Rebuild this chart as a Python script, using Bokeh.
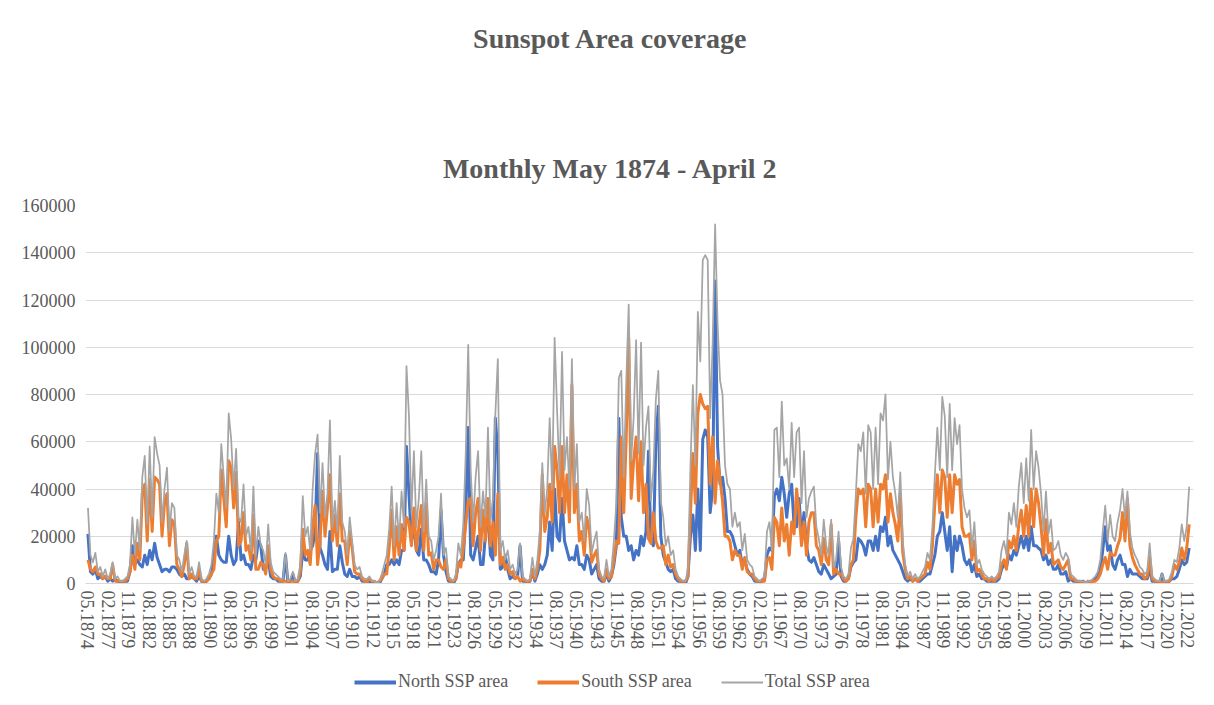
from bokeh.plotting import figure
from bokeh.models import Range1d, FixedTicker, Legend, LegendItem, BasicTickFormatter, Label
from bokeh.layouts import column
from bokeh.embed import file_html
from bokeh.resources import INLINE

# ---------------- categories (monthly) ----------------
start_year, start_month = 1874, 5
n_months = 1788  # May 1874 .. April 2023
months = []
for k in range(n_months):
    m = (start_month - 1 + k) % 12 + 1
    y = start_year + (start_month - 1 + k) // 12
    months.append(f"{m:02d}.{y}")

tick_step = 33
tick_idx = list(range(0, n_months, tick_step))
tick_labels = [months[i] for i in tick_idx]

title_text = "Sunspot Area coverage"
subtitle_text = "Monthly May 1874 - April 2"
series_names = ["North SSP area", "South SSP area", "Total SSP area"]

# ---------------- series (readings every 4 months, in thousands) ----------------
sample_step = 4
north_k = [
    21,5, 4,6,2, 3,2,3, 1,2,1, 2,1,0, 0,1,1,
    5,16,8, 10,8,7, 12,8,14, 10,17,11, 8,5,6, 6,5,7, 7,6,4, 3,4,2, 2,3,2, 1,3,1,
    0,1,2, 4,12,20, 12,10,9, 9,20,12, 8,10,26, 10,12,8, 8,6,12, 10,18,16, 6,8,10, 3,2,2,
    1,1,1, 12,0,1, 4,0,1, 3,14,10, 10,14,16, 22,55,15, 12,8,6, 22,5,6, 6,16,9, 4,3,6,
    3,3,2, 3,1,1, 1,1,0, 0,0,0, 2,4,8, 8,10,8, 10,8,14, 14,58,38, 18,24,14, 12,23,10,
    10,8,5, 5,4,10, 31,12,5, 1,1,0, 2,8,10, 10,30,66, 12,10,15, 20,8,8, 21,30,12, 10,70,55,
    6,7,12, 6,2,3, 2,3,16, 1,1,0, 1,5,1, 4,8,6, 8,12,26, 14,40,20, 18,36,18, 14,10,11,
    10,16,8, 8,6,12, 10,4,6, 8,2,1, 1,4,1, 3,8,16, 70,28,20, 20,14,16, 10,14,12, 20,16,22,
    56,18,16, 60,75,20, 12,9,6, 5,6,2, 1,1,0, 0,3,20, 29,14,40, 14,61,65, 62,30,40, 128,58,42,
    45,36,22, 22,20,16, 12,14,8, 10,6,4, 3,1,1, 0,1,2, 12,15,14, 37,40,35, 45,38,28, 38,42,24,
    24,36,20, 30,16,10, 9,11,8, 5,4,8, 6,4,2, 3,4,18, 3,1,1, 2,7,9, 10,19,18, 16,12,18,
    18,14,20, 14,24,22, 28,16,20, 14,12,10, 8,5,2, 1,2,1, 2,1,1, 2,3,4, 4,8,12, 20,22,30,
    22,14,24, 5,20,14, 20,16,10, 8,10,5, 8,3,4, 2,2,1, 1,1,1, 1,2,6, 8,7,12, 10,14,12,
    16,20,15, 20,14,24, 16,16,15, 14,10,12, 8,10,6, 6,8,4, 4,5,1, 2,1,1, 0,0,1, 0,0,1,
    1,2,3, 6,14,24, 14,16,8, 6,10,12, 8,8,3, 6,4,4, 4,3,2, 2,2,6, 1,1,0, 0,4,0,
    0,1,2, 2,3,6, 10,8,9, 15,
]
south_k = [
    10,6, 5,7,4, 4,2,3, 2,2,8, 1,1,1, 1,1,2,
    5,12,6, 17,10,38, 42,18,44, 22,45,44, 42,20,34, 38,16,27, 25,8,6, 3,8,17, 2,4,2, 2,6,1,
    1,1,2, 4,6,18, 20,48,36, 24,52,49, 32,47,16, 18,30,14, 16,10,29, 6,6,9, 8,4,16, 6,3,2,
    2,1,1, 1,1,1, 1,1,1, 5,23,12, 14,8,24, 33,8,18, 39,20,32, 46,18,29, 16,38,18, 18,8,22,
    15,5,4, 4,2,1, 1,2,1, 1,0,1, 2,4,4, 15,31,10, 24,12,25, 14,28,26, 16,32,14, 24,33,14,
    34,12,13, 6,10,10, 7,6,10, 2,1,1, 2,9,7, 15,25,35, 36,16,30, 36,14,31, 18,36,16, 26,12,38,
    8,11,6, 8,4,5, 2,3,1, 2,1,1, 1,6,2, 6,14,46, 22,28,42, 26,58,48, 30,58,30, 46,26,84,
    30,42,18, 22,12,28, 23,9,12, 14,4,2, 1,6,2, 3,10,18, 17,62,30, 62,104,36, 52,62,35, 60,30,42,
    19,17,30, 18,15,15, 16,8,12, 7,8,4, 2,1,1, 1,3,29, 55,34,72, 80,76,74, 75,42,62, 34,52,44,
    35,20,20, 18,10,14, 12,12,6, 11,5,4, 4,2,1, 1,1,1, 10,11,6, 28,26,16, 32,18,25, 12,26,21,
    40,30,16, 26,12,26, 30,30,16, 14,8,19, 10,8,25, 4,6,4, 4,2,1, 2,8,10, 28,40,38, 40,24,42,
    40,24,40, 26,42,40, 46,26,38, 30,25,18, 38,13,6, 2,3,1, 2,1,2, 3,4,9, 6,16,34, 46,30,48,
    45,28,46, 30,46,42, 44,24,20, 20,21,10, 18,5,6, 4,2,2, 1,2,1, 2,3,8, 10,6,18, 15,20,14,
    25,31,20, 33,20,40, 24,40,34, 24,12,27, 13,17,8, 9,10,7, 6,8,10, 2,2,1, 1,1,0, 0,1,0,
    1,1,2, 4,8,11, 6,13,12, 12,16,19, 30,18,36, 16,11,8, 6,4,4, 2,3,11, 2,1,1, 1,0,1,
    1,1,3, 8,6,9, 15,10,15, 25,
]
total_k = [
    32,12, 9,13,5, 7,3,6, 2,4,9, 2,3,1, 1,2,3,
    8,28,12, 27,14,45, 54,25,58, 28,62,55, 50,26,40, 49,22,34, 32,12,10, 5,12,18, 4,7,3, 3,9,2,
    1,2,4, 8,18,38, 30,59,45, 32,72,61, 40,57,28, 26,42,20, 24,14,41, 12,24,16, 14,8,25, 9,5,4,
    3,2,2, 13,1,2, 5,1,2, 8,37,20, 24,14,40, 55,63,30, 51,28,38, 69,24,35, 22,54,26, 22,12,28,
    18,8,6, 7,3,2, 2,3,1, 1,0,1, 4,8,12, 23,41,16, 34,18,39, 24,92,71, 30,56,24, 36,56,22,
    44,20,18, 10,14,20, 38,12,15, 3,2,1, 4,17,12, 25,55,101, 48,26,45, 56,24,39, 28,66,26, 36,72,95,
    14,18,10, 14,6,8, 4,6,17, 3,2,1, 2,11,3, 10,22,51, 30,40,70, 40,104,73, 45,98,48, 62,40,95,
    40,59,26, 30,18,40, 33,13,18, 22,6,3, 2,10,3, 6,18,34, 87,90,45, 85,118,52, 70,103,55, 102,50,66,
    75,35,48, 78,90,35, 28,16,20, 12,14,6, 3,2,1, 1,6,49, 84,50,115, 94,137,139, 137,70,102, 152,110,86,
    80,50,42, 40,24,30, 24,26,14, 21,10,8, 7,3,2, 1,2,3, 22,26,14, 65,66,45, 77,50,53, 40,68,45,
    64,66,34, 56,28,36, 39,41,24, 19,12,27, 16,12,27, 7,10,22, 7,3,2, 4,15,19, 38,59,56, 64,38,67,
    64,40,66, 42,72,69, 80,44,60, 45,38,28, 47,18,8, 3,5,2, 4,2,3, 5,7,13, 10,24,46, 66,48,79,
    71,45,76, 48,70,59, 67,40,32, 28,31,15, 26,8,10, 6,4,3, 2,3,2, 3,5,14, 18,12,30, 25,34,24,
    41,51,34, 53,35,65, 40,56,49, 38,22,39, 21,27,14, 15,18,12, 10,13,11, 4,3,2, 1,1,1, 0,1,1,
    2,3,5, 10,22,33, 18,29,20, 18,26,31, 40,28,39, 22,15,12, 10,7,6, 4,5,17, 3,2,1, 1,4,1,
    1,2,5, 10,9,15, 25,18,24, 41,
]

def series_xy(vals_k):
    xs = [i * sample_step for i in range(len(vals_k))]
    ys = [v * 1000 for v in vals_k]
    return xs, ys

# ---------------- styles ----------------
FONT = "Liberation Serif"
TXT = "#595959"
GRID = "#D9D9D9"
COLORS = ["#4472C4", "#ED7D31", "#A5A5A5"]
WIDTHS = [3, 3, 1.75]
KEY_WIDTHS = [4, 4, 2]
W = 1214
BL, BR = 85, 21          # left / right borders shared by all strips
FRAME_L, FRAME_R = BL, W - BR

def bare(fig):
    fig.outline_line_color = None
    fig.background_fill_color = "white"
    fig.border_fill_color = "white"
    fig.grid.visible = False
    return fig

# ---------------- title strip ----------------
H_TOP = 185
p_top = bare(figure(width=W, height=H_TOP, output_backend="svg", toolbar_location=None,
                    x_range=Range1d(FRAME_L, FRAME_R), y_range=Range1d(H_TOP, 0),
                    min_border_left=BL, min_border_right=BR, min_border_top=0, min_border_bottom=0,
                    x_axis_location=None, y_axis_location=None))
p_top.add_layout(Label(x=610, y=38, text=title_text, text_font=FONT, text_font_style="bold",
                       text_font_size="28px", text_color=TXT, text_align="center",
                       text_baseline="middle"))
p_top.add_layout(Label(x=610, y=168, text=subtitle_text, text_font=FONT, text_font_style="bold",
                       text_font_size="28px", text_color=TXT, text_align="center",
                       text_baseline="middle"))

# ---------------- main chart ----------------
H_MAIN = 477
p = bare(figure(width=W, height=H_MAIN, output_backend="svg", toolbar_location=None,
                x_range=Range1d(-4, 1791), y_range=Range1d(0, 160000),
                min_border_left=BL, min_border_right=BR, min_border_top=20, min_border_bottom=79))

yt = FixedTicker(ticks=list(range(0, 160001, 20000)))
p.yaxis.ticker = yt
p.ygrid.ticker = yt
p.ygrid.visible = True
p.yaxis.formatter = BasicTickFormatter(use_scientific=False)
p.yaxis.axis_line_color = None
p.yaxis.major_tick_line_color = None
p.yaxis.major_tick_out = 0
p.yaxis.major_tick_in = 0
p.yaxis.minor_tick_line_color = None
p.yaxis.major_label_text_font = FONT
p.yaxis.major_label_text_font_size = "18px"
p.yaxis.major_label_text_color = TXT
p.yaxis.major_label_standoff = 10
p.ygrid.grid_line_color = GRID
p.ygrid.grid_line_width = 1

p.xaxis.ticker = FixedTicker(ticks=tick_idx)
p.xaxis.major_label_overrides = {i: lbl for i, lbl in zip(tick_idx, tick_labels)}
p.xaxis.major_label_orientation = "vertical"
p.xaxis.axis_line_color = GRID
p.xaxis.major_tick_line_color = None
p.xaxis.major_tick_out = 0
p.xaxis.major_tick_in = 0
p.xaxis.minor_tick_line_color = None
p.xaxis.major_label_text_font = FONT
p.xaxis.major_label_text_font_size = "18px"
p.xaxis.major_label_text_color = TXT
p.xaxis.major_label_standoff = 7

all_series = [north_k, south_k, total_k]
for vals, c, w in zip(all_series, COLORS, WIDTHS):
    xv, yv = series_xy(vals)
    p.line(xv, yv, line_color=c, line_width=w, line_join="round")

# ---------------- legend strip ----------------
H_LEG = 705 - H_TOP - H_MAIN
p_leg = bare(figure(width=W, height=H_LEG, output_backend="svg", toolbar_location=None,
                    x_range=Range1d(0, 1), y_range=Range1d(-1, 0),
                    min_border_left=BL, min_border_right=BR, min_border_top=0, min_border_bottom=0,
                    x_axis_location=None, y_axis_location=None))
items = []
for name, vals, c, w in zip(series_names, all_series, COLORS, KEY_WIDTHS):
    xv, yv = series_xy(vals)
    r = p_leg.line(xv, yv, line_color=c, line_width=w, visible=False)  # legend key only
    items.append(LegendItem(label=name, renderers=[r]))
legend = Legend(items=items, orientation="horizontal", location=(354 - BL, 13),
                glyph_width=42, glyph_height=20, label_height=20, label_standoff=2,
                spacing=29, padding=0, margin=0, border_line_color=None,
                background_fill_alpha=0, inactive_fill_alpha=0, label_text_font=FONT,
                label_text_font_size="18px", label_text_color=TXT)
p_leg.add_layout(legend)

layout = column(p_top, p, p_leg, spacing=0)
open("out.html", "w").write(file_html(layout, INLINE))
